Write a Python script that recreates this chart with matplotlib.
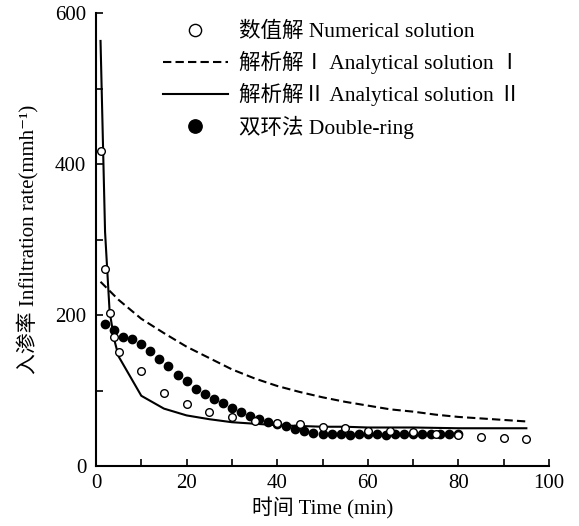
import matplotlib
matplotlib.use("Agg")
import matplotlib.pyplot as plt
from matplotlib.ticker import MultipleLocator

# --- Data ---
num_t = [1, 2, 3, 4, 5, 10, 15, 20, 25, 30, 35, 40, 45, 50, 55, 60, 65, 70, 75, 80, 85, 90, 95]
num_v = [417, 261, 203, 171, 151, 126, 97, 82, 72, 65, 60, 57, 55, 52, 50, 47, 46, 45, 43, 41, 38, 37, 36]

ana1_t = [1, 5, 10, 15, 20, 25, 30, 35, 40, 45, 50, 55, 60, 65, 70, 75, 80, 85, 90, 95]
ana1_v = [244, 220, 195, 176, 158, 143, 128, 116, 106, 98, 91, 85, 80, 75, 72, 68, 65, 63, 61, 59]

ana2_t = [1, 2, 3, 4, 5, 10, 15, 20, 25, 30, 35, 40, 45, 50, 55, 60, 70, 80, 95]
ana2_v = [563, 310, 205, 168, 145, 93, 76, 67, 62, 58, 56, 54, 53, 52, 52, 51, 51, 50, 50]

dr_t = list(range(2, 81, 2))
dr_v = [188, 180, 171, 168, 161, 152, 142, 132, 121, 112,
        102, 96, 89, 83, 77, 71, 66, 62, 58, 56,
        53, 49, 46, 44, 42, 42, 43, 41, 42, 42,
        42, 41, 42, 42, 42, 43, 42, 42, 42, 42]

labels = ["数值解 Numerical solution",
          "解析解Ⅰ Analytical solution Ⅰ",
          "解析解Ⅱ Analytical solution Ⅱ",
          "双环法 Double-ring"]

plt.rcParams['font.family'] = ['Liberation Serif', 'Noto Sans CJK SC', 'DejaVu Sans']

fig = plt.figure(figsize=(5.79, 5.26), dpi=100)
ax = fig.add_axes([96 / 579, 60 / 526, 453 / 579, 453 / 526])

ax.plot(num_t, num_v, 'o', mfc='white', mec='black', ms=5.5, mew=1, label=labels[0], zorder=4)
ax.plot(ana1_t, ana1_v, color='black', lw=1.5, dashes=(4, 2), label=labels[1], zorder=2)
ax.plot(ana2_t, ana2_v, color='black', lw=1.5, label=labels[2], zorder=2)
ax.plot(dr_t, dr_v, 'o', color='black', ms=6, label=labels[3], zorder=3)

ax.set_xlim(0, 100)
ax.set_ylim(0, 600)
ax.xaxis.set_major_locator(MultipleLocator(20))
ax.xaxis.set_minor_locator(MultipleLocator(10))
ax.yaxis.set_major_locator(MultipleLocator(200))
ax.yaxis.set_minor_locator(MultipleLocator(100))
ax.tick_params(which='both', direction='in', width=1.2, length=5, labelsize=15)
ax.tick_params(axis='y', pad=7)
ax.tick_params(axis='x', pad=6)

for s in ['top', 'right']:
    ax.spines[s].set_visible(False)
for s in ['left', 'bottom']:
    ax.spines[s].set_linewidth(1.5)

ax.set_xlabel("时间 Time (min)", fontsize=15)
ax.set_ylabel("入渗率 Infiltration rate(mmh⁻¹)", fontsize=15)
ax.xaxis.set_label_coords(0.5, -0.07)
ax.yaxis.set_label_coords(-0.125, 0.5)

ax.legend(loc='upper left', bbox_to_anchor=(163 / 579, 1 - 22 / 526),
          bbox_transform=fig.transFigure, frameon=False, fontsize=15.5,
          borderpad=0, borderaxespad=0, handlelength=3.0, handletextpad=0.55,
          labelspacing=0.42, markerscale=1.6)

fig.savefig("out.png", dpi=100)
